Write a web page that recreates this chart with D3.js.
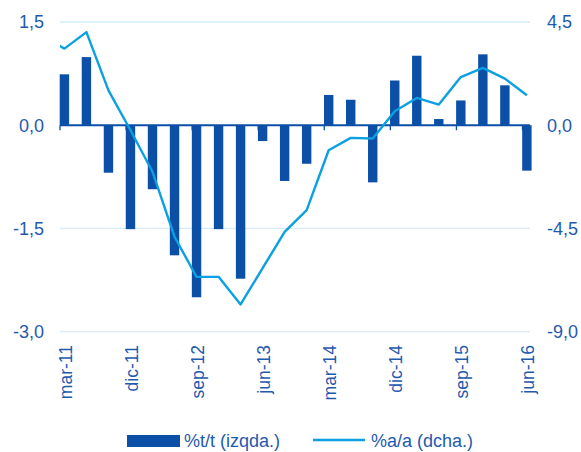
<!DOCTYPE html>
<html>
<head>
<meta charset="utf-8">
<script src="https://cdn.jsdelivr.net/npm/d3@7"></script>
<style>
  body { margin: 0; background: #fff; }
  text { font-family: "Liberation Sans", Arial, sans-serif; fill: #1f5aad; }
</style>
</head>
<body>
<div id="chart"></div>
<script>
const quarters = ["mar-11","jun-11","sep-11","dic-11","mar-12","jun-12","sep-12","dic-12",
  "mar-13","jun-13","sep-13","dic-13","mar-14","jun-14","sep-14","dic-14",
  "mar-15","jun-15","sep-15","dic-15","mar-16","jun-16"];
// %t/t (left axis)
const qoq = [0.74, 0.99, -0.69, -1.51, -0.93, -1.89, -2.50, -1.51, -2.23, -0.23, -0.81,
  -0.56, 0.44, 0.37, -0.83, 0.65, 1.01, 0.09, 0.36, 1.03, 0.58, -0.66];
// %a/a (right axis), first value is dic-10 (clipped at the left edge)
const yoyPrev = 3.9;
const yoy = [3.34, 4.06, 1.52, -0.22, -2.03, -4.86, -6.61, -6.61, -7.81, -6.23, -4.65,
  -3.70, -1.09, -0.55, -0.58, 0.61, 1.19, 0.90, 2.10, 2.50, 2.03, 1.31];
const leftTicks = [1.5, 0, -1.5, -3];
const rightTicks = [4.5, 0, -4.5, -9];

const BAR = "#0b4fa6", LINE = "#0aa0e2", GRID = "#d3ecfa";
const fmt = v => d3.format(".1f")(v).replace(".", ",").replace("−", "-");

const svg = d3.select("#chart").append("svg")
  .attr("width", 581)
  .attr("height", 452);

// index scale: bars sit at i, band edges at i - 0.2
const x = d3.scaleLinear().domain([-0.2, 21.2]).range([60, 531.3]);
const yL = d3.scaleLinear().domain([-3, 1.5]).range([331.7, 22]);
const yR = d3.scaleLinear().domain([-9, 4.5]).range([331.7, 22]);

// gridlines
svg.selectAll(".grid").data(leftTicks.filter(d => d !== 0)).join("line")
  .attr("x1", 60).attr("x2", 530)
  .attr("y1", d => yL(d)).attr("y2", d => yL(d))
  .attr("stroke", GRID).attr("stroke-width", 1.3);

// left labels
svg.selectAll(".ly").data(leftTicks).join("text")
  .attr("x", 44).attr("y", d => yL(d))
  .attr("text-anchor", "end").attr("dy", "0.35em")
  .attr("font-size", 18)
  .text(fmt);

// right labels
svg.selectAll(".ry").data(rightTicks).join("text")
  .attr("x", 547).attr("y", d => yR(d))
  .attr("dy", "0.35em")
  .attr("font-size", 18)
  .text(fmt);

// bars
svg.selectAll(".bar").data(qoq).join("rect")
  .attr("x", (d, i) => x(i) - 4.7)
  .attr("width", 9.4)
  .attr("y", d => yL(Math.max(0, d)))
  .attr("height", d => Math.abs(yL(d) - yL(0)))
  .attr("fill", BAR);

// zero axis + ticks
svg.append("line")
  .attr("x1", 60).attr("x2", 530)
  .attr("y1", yL(0)).attr("y2", yL(0))
  .attr("stroke", BAR).attr("stroke-width", 2);

const labelIdx = d3.range(0, quarters.length, 3);
svg.selectAll(".tick").data(labelIdx).join("line")
  .attr("x1", i => x(i - 0.2)).attr("x2", i => x(i - 0.2))
  .attr("y1", yL(0)).attr("y2", yL(0) + 5)
  .attr("stroke", BAR).attr("stroke-width", 1.3);

// x labels
svg.selectAll(".xl").data(labelIdx).join("text")
  .attr("transform", i => `translate(${x(i) + 1},345) rotate(-90)`)
  .attr("text-anchor", "end").attr("dy", "0.35em")
  .attr("font-size", 17.5)
  .text(i => quarters[i]);

// line
svg.append("clipPath").attr("id", "clip")
  .append("rect").attr("x", 60).attr("y", 0).attr("width", 472).attr("height", 452);

const linePts = [[-1, yoyPrev]].concat(yoy.map((v, i) => [i, v]));
svg.append("path")
  .datum(linePts)
  .attr("clip-path", "url(#clip)")
  .attr("fill", "none")
  .attr("stroke", LINE)
  .attr("stroke-width", 2.4)
  .attr("stroke-linejoin", "round")
  .attr("d", d3.line().x(d => x(d[0])).y(d => yR(d[1])));

// legend
svg.append("rect")
  .attr("x", 127).attr("y", 435).attr("width", 53).attr("height", 12)
  .attr("fill", BAR);
svg.append("text")
  .attr("x", 184).attr("y", 441).attr("dy", "0.35em")
  .attr("font-size", 18)
  .text("%t/t (izqda.)");
svg.append("line")
  .attr("x1", 313).attr("x2", 365).attr("y1", 440).attr("y2", 440)
  .attr("stroke", LINE).attr("stroke-width", 2.4);
svg.append("text")
  .attr("x", 371).attr("y", 441).attr("dy", "0.35em")
  .attr("font-size", 18)
  .text("%a/a (dcha.)");
</script>
</body>
</html>
